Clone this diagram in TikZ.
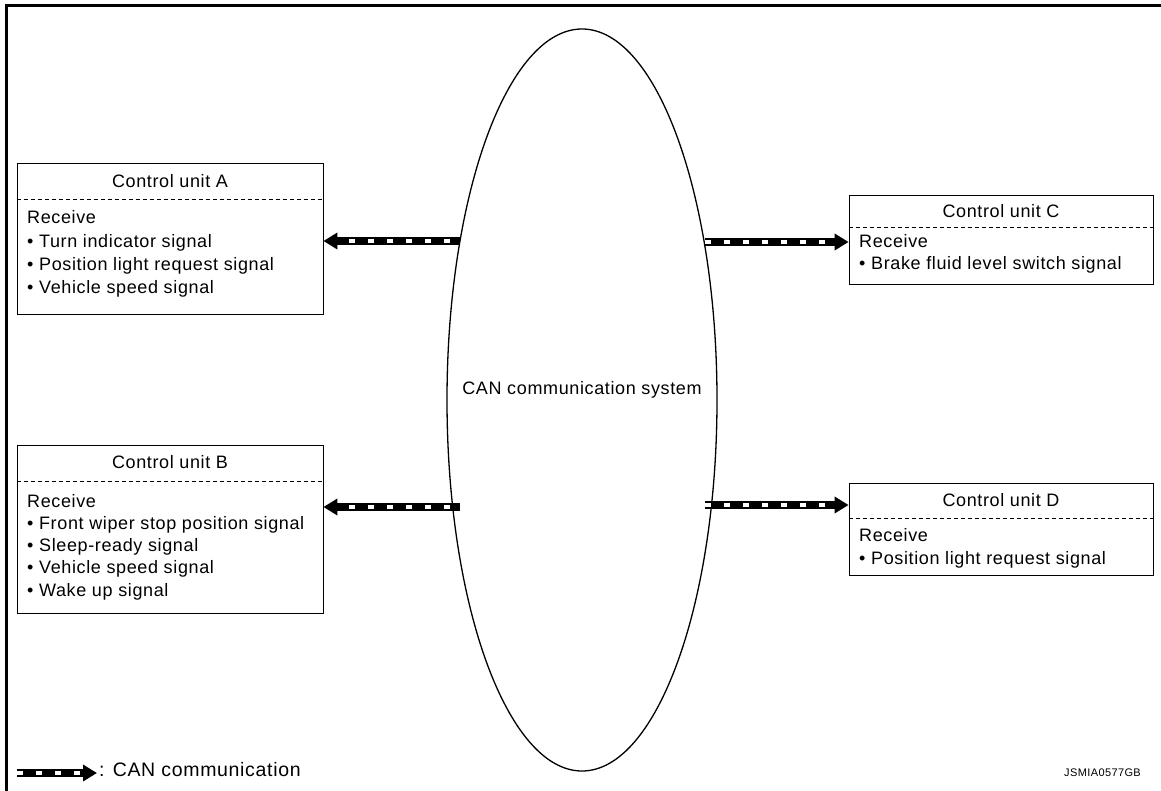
\documentclass[tikz,border=0pt]{standalone}
\usepackage{fontspec}
\setmainfont{Liberation Sans}[LetterSpace=3.5]
\usetikzlibrary{arrows.meta,shapes.geometric}
\tikzset{
  frame/.style={line width=3pt},
  unitbox/.style={draw, line width=0.8pt, rectangle, inner sep=0pt},
  divider/.style={draw, dashed, line width=0.7pt, dash pattern=on 4pt off 3pt},
  title/.style={font=\fontsize{18}{21}\selectfont, inner sep=0pt},
  body/.style={font=\fontsize{18}{21}\selectfont, inner sep=0pt, anchor=mid west},
  can/.style={line width=8pt, -{Triangle[length=14pt,width=16pt]},
    postaction={draw=white, line width=3.5pt, dash pattern=on 6pt off 13pt, dash phase=#1, shorten >=17pt, -}},
  can/.default=0pt,
}
\begin{document}
\begin{tikzpicture}[x=1pt,y=-1pt]
\useasboundingbox (0,0) rectangle (1161,791);
% frame
\draw[frame] (1161,5.5) -- (6,5.5) -- (6,791);
% ellipse
\node[draw, ellipse, line width=1.3pt, minimum width=270pt, minimum height=742pt, inner sep=0pt] (can) at (582,400) {};
\node[title] (cantxt) at (582,390) {CAN communication system};

% Control unit A
\node[unitbox, minimum width=306pt, minimum height=151pt] (A) at (170,238.5) {};
\draw[divider] (A.west |- 0,199) -- (A.east |- 0,199);
\node[title] (At) at (170,181) {Control unit A};
\node[body] (A1) at (27,221) {Receive};
\node[body] (A2) at (27,245) {• Turn indicator signal};
\node[body] (A3) at (27,268) {• Position light request signal};
\node[body] (A4) at (27,291) {• Vehicle speed signal};

% Control unit B
\node[unitbox, minimum width=306pt, minimum height=168pt] (B) at (170,529) {};
\draw[divider] (B.west |- 0,481) -- (B.east |- 0,481);
\node[title] (Bt) at (170,462) {Control unit B};
\node[body] (B1) at (27,505) {Receive};
\node[body] (B2) at (27,527) {• Front wiper stop position signal};
\node[body] (B3) at (27,549) {• Sleep-ready signal};
\node[body] (B4) at (27,571) {• Vehicle speed signal};
\node[body] (B5) at (27,594) {• Wake up signal};

% Control unit C
\node[unitbox, minimum width=304pt, minimum height=89pt] (C) at (1001,239.5) {};
\draw[divider] (C.west |- 0,227) -- (C.east |- 0,227);
\node[title] (Ct) at (1001,211) {Control unit C};
\node[body] (C1) at (859,245) {Receive};
\node[body] (C2) at (859,267) {• Brake fluid level switch signal};

% Control unit D
\node[unitbox, minimum width=304pt, minimum height=92pt] (D) at (1001,529) {};
\draw[divider] (D.west |- 0,518) -- (D.east |- 0,518);
\node[title] (Dt) at (1001,500) {Control unit D};
\node[body] (D1) at (859,539) {Receive};
\node[body] (D2) at (859,562) {• Position light request signal};

% connection points on the ellipse
\coordinate (ea) at (460,241);
\coordinate (eb) at (460,507);
\coordinate (ec) at (705,242);
\coordinate (ed) at (705,505);
\draw[can=9pt] (ea) -- (ea -| A.east);
\draw[can=9pt] (eb) -- (eb -| B.east);
\draw[can] (ec) -- (ec -| C.west);
\draw[can] (ed) -- (ed -| D.west);

% legend
\coordinate (l1) at (17,773);
\coordinate (l2) at (97,773);
\draw[can] (l1) -- (l2);
\node[body, font=\fontsize{19.5}{22}\selectfont] (lt) at (99,774) {: CAN communication};
\node[font=\fontsize{11}{13}\selectfont, inner sep=0pt, anchor=mid east] (code) at (1141,774) {JSMIA0577GB};
\end{tikzpicture}
\end{document}
